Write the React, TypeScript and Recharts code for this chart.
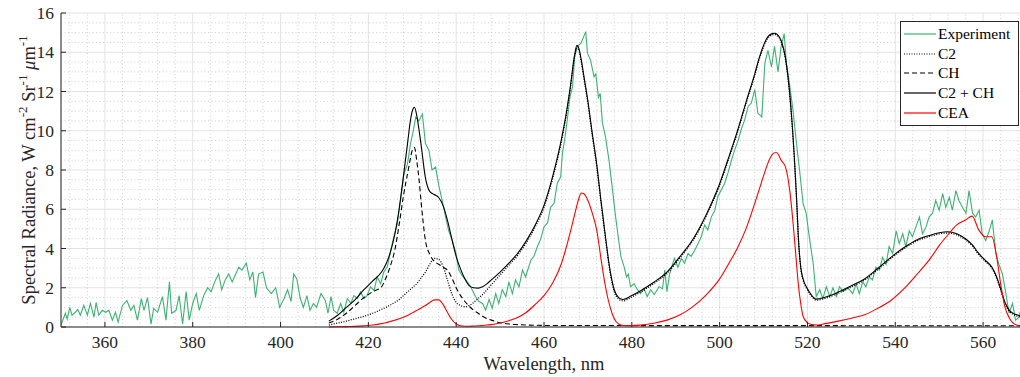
import React from 'react';
import { LineChart, Line, XAxis, YAxis, CartesianGrid, ReferenceLine, Legend } from 'recharts';

// experiment (noisy measured spectrum)
const expWavelength = [
  350, 351.0, 351.4, 352.0, 352.5, 353.3, 353.8, 354.4, 355.2, 356.0,
  356.7, 357.5, 358.0, 358.6, 359.4, 360.2, 360.9, 361.7, 362.4, 363.0,
  364.0, 365.0, 365.9, 366.6, 367.4, 368.3, 368.9, 369.7, 370.5, 371.1,
  372.0, 373.1, 373.9, 374.7, 375.2, 376.2, 376.9, 377.7, 378.5, 379.2,
  380.0, 380.8, 381.5, 382.5, 383.4, 384.2, 385.0, 385.9, 386.6, 387.4,
  388.2, 389.0, 389.7, 390.5, 391.2, 392.2, 393.0, 393.7, 394.3, 395.0,
  396.0, 396.8, 397.9, 398.9, 399.8, 400.8, 401.6, 402.4, 403.0, 403.7,
  404.5, 405.2, 406.0, 406.7, 407.5, 408.2, 409.2, 410.2, 410.8, 411.5,
  412.1, 412.9, 413.7, 414.4, 415.2, 416.0, 416.7, 417.5, 418.2, 419.0,
  419.7, 420.5, 421.3, 422.0, 422.8, 423.5, 424.3, 425.1, 425.8, 426.6,
  427.3, 428.1, 428.9, 429.6, 430.1, 430.8, 431.5, 432.3, 433.0, 433.8,
  434.5, 435.3, 436.1, 436.8, 437.6, 438.3, 439.1, 439.9, 440.6, 441.4,
  442.2, 443.3, 444.4, 445.2, 446.0, 446.7, 447.5, 448.2, 449.0, 449.7,
  450.5, 451.3, 452.0, 452.8, 453.5, 454.3, 455.1, 455.8, 457.0, 457.7,
  458.5, 459.2, 460.0, 460.8, 461.5, 462.3, 463.0, 463.8, 464.2, 464.8,
  465.3, 465.9, 466.5, 467.0, 467.6, 468.4, 469.5, 469.9, 470.6, 471.4,
  471.8, 472.4, 472.8, 473.3, 474.0, 474.8, 475.6, 476.2, 476.9, 477.5,
  478.2, 478.8, 479.2, 479.7, 480.5, 481.3, 482.0, 482.8, 483.5, 484.3,
  485.1, 486.2, 487.0, 487.5, 488.0, 488.6, 489.7, 490.5, 491.3, 492.0,
  492.8, 493.5, 494.3, 495.1, 495.8, 496.6, 497.3, 498.1, 498.9, 499.6,
  500.4, 501.1, 501.9, 502.7, 503.4, 504.2, 504.9, 505.7, 506.5, 507.2,
  508.0, 508.7, 509.6, 510.3, 511.0, 511.8, 512.5, 513.3, 514.0, 514.7,
  515.2, 515.9, 516.7, 517.5, 518.2, 519.0, 519.7, 520.5, 521.3, 522.0,
  522.8, 523.5, 524.3, 525.1, 525.8, 526.6, 527.3, 528.1, 529.2, 530.3,
  531.1, 531.8, 532.6, 533.3, 534.1, 534.8, 535.6, 536.4, 537.1, 537.9,
  538.6, 539.4, 540.2, 540.9, 541.7, 542.4, 543.2, 543.9, 544.7, 545.5,
  546.2, 547.0, 547.7, 548.5, 549.2, 550.0, 550.8, 551.5, 552.3, 553.0,
  553.8, 554.5, 555.3, 556.1, 556.8, 557.6, 558.3, 559.1, 559.8, 560.6,
  561.4, 562.1, 562.9, 563.6, 564.4, 565.2, 565.9, 566.7, 567.4, 568.2,
  569.0,
];
const expRadiance = [
  0.1, 0.7, 0.4, 1.0, 0.6, 0.75, 0.9, 0.6, 1.1, 0.6,
  1.2, 0.5, 1.25, 0.6, 0.85, 0.75, 0.85, 0.35, 0.75, 0.25,
  1.1, 1.35, 0.85, 1.1, 0.35, 1.45, 0.85, 1.5, 0.15, 0.95,
  0.75, 1.55, 0.35, 2.3, 0.7, 0.85, 1.6, 0.15, 1.8, 0.35,
  1.2, 1.7, 0.85, 1.6, 2.0, 1.8, 2.3, 2.7, 1.9, 2.4,
  2.7, 2.3, 2.65, 3.05, 2.9, 3.25, 2.4, 2.8, 1.5, 2.7,
  2.8, 2.0, 1.7, 2.0, 1.0, 1.45, 1.9, 1.3, 2.7, 2.45,
  1.45, 1.0, 1.6, 0.85, 1.2, 1.0, 1.7, 1.35, 0.7, 1.55,
  0.85, 0.7, 1.2, 0.75, 1.45, 1.2, 1.6, 1.45, 1.8, 1.45,
  1.6, 2.05, 1.85, 2.55, 2.2, 2.8, 3.05, 3.9, 4.6, 5.25,
  6.45, 7.8, 8.3, 9.35, 9.85, 10.7, 10.5, 10.85, 9.35, 9.0,
  8.0, 8.15, 7.15, 6.45, 5.6, 4.9, 4.4, 3.8, 2.9, 2.6,
  2.4, 2.05, 1.55, 1.3, 1.2, 0.87, 1.4, 0.95, 1.7, 1.2,
  1.9, 1.55, 2.3, 1.7, 2.4, 2.05, 2.9, 2.55, 3.4, 3.6,
  4.1, 4.45, 5.1, 5.3, 6.1, 6.3, 7.3, 7.65, 8.85, 9.7,
  10.55, 11.7, 12.25, 13.8, 14.3, 14.45, 15.05, 13.95, 13.6, 12.75,
  12.9, 11.7, 11.9, 10.4, 9.7, 8.5, 7.0, 5.8, 4.6, 3.6,
  3.1, 2.55, 2.7, 2.05, 2.2, 1.9, 1.7, 1.95, 1.55, 1.9,
  1.65, 2.05, 1.95, 2.9, 1.8, 2.7, 3.5, 3.05, 3.5, 3.25,
  3.75, 3.6, 3.9, 4.25, 4.6, 5.2, 4.95, 5.6, 5.95, 6.65,
  7.0, 7.3, 7.85, 8.5, 9.0, 9.5, 10.05, 10.55, 11.25, 11.4,
  12.1, 10.9, 10.7, 13.45, 14.1, 13.25, 14.3, 13.0, 14.3, 14.95,
  13.45, 12.4, 11.05, 9.35, 8.0, 6.3, 5.8, 4.45, 3.25, 1.55,
  1.9, 1.45, 2.05, 1.55, 2.0, 1.55, 2.05, 1.8, 2.0, 1.7,
  2.2, 1.7, 2.3, 2.05, 2.55, 2.4, 3.05, 2.9, 3.55, 3.2,
  4.1, 3.75, 4.9, 4.25, 4.75, 4.1, 4.9, 4.6, 5.1, 5.6,
  4.75, 5.1, 5.6, 5.8, 6.45, 5.95, 6.8, 6.1, 6.6, 5.95,
  6.95, 6.45, 6.1, 5.8, 6.95, 5.8, 5.6, 5.95, 4.75, 4.4,
  4.9, 5.45, 3.75, 3.2, 2.7, 1.7, 0.7, 1.2, 0.35, 0.5,
  1.3,
];

// model curves share one wavelength grid
const modelWavelength = [
  411, 413, 415, 417, 419, 421, 423, 424, 425, 426,
  427, 428, 429, 429.5, 430, 430.5, 431, 431.5, 432, 433,
  434, 435, 436, 437, 438, 439, 440, 441, 442, 443,
  444, 445, 446, 447, 448, 450, 452, 454, 456, 458,
  460, 462, 464, 465, 466, 467, 467.5, 468, 468.5, 469,
  470, 471, 472, 473, 474, 475, 476, 477, 478, 480,
  482, 485, 488, 491, 494, 497, 500, 502, 504, 506,
  508, 509, 510, 511, 512, 512.5, 513, 514, 515, 516,
  517, 517.5, 518, 518.5, 519, 520, 521, 522, 524, 527,
  530, 533, 536, 539, 542, 545, 548, 550, 552, 554,
  556, 557.5, 559, 560.5, 562, 563, 564, 565, 566, 567,
  568, 569.5,
];
const c2Values = [
  0.1, 0.2, 0.3, 0.42, 0.55, 0.7, 0.9, 1.0, 1.12, 1.25,
  1.4, 1.6, 1.8, 1.9, 2.0, 2.1, 2.2, 2.35, 2.5, 2.8,
  3.2, 3.5, 3.45, 3.1, 2.4, 1.7, 1.25, 1.1, 1.03, 1.1,
  1.25, 1.45, 1.65, 1.9, 2.15, 2.65, 3.15, 3.65, 4.3, 5.1,
  6.1, 7.6, 9.5, 10.7, 12.15, 13.8, 14.2, 14.05, 13.5, 12.8,
  11.4, 9.75, 8.2, 6.3, 4.5, 2.85, 1.8, 1.42, 1.33, 1.53,
  1.78, 2.21, 2.73, 3.53, 4.43, 5.68, 7.23, 8.53, 9.88, 11.38,
  12.83, 13.63, 14.28, 14.73, 14.88, 14.9, 14.86, 14.53, 13.63, 11.73,
  8.63, 6.6, 4.25, 2.95, 2.4, 1.9, 1.55, 1.37, 1.46, 1.72,
  2.04, 2.39, 2.92, 3.49, 3.99, 4.39, 4.62, 4.74, 4.79, 4.69,
  4.44, 4.14, 3.69, 3.34, 2.99, 2.54, 1.89, 1.19, 0.79, 0.62,
  0.54, 0.44,
];
const chValues = [
  0.2, 0.4, 0.7, 1.1, 1.5, 1.8, 2.05, 2.5, 3.1, 3.9,
  5.2, 6.7, 7.9, 8.5, 9.0, 9.15, 8.5, 7.6, 6.4, 4.4,
  3.7, 3.35, 3.2, 3.05, 2.9, 2.5, 2.0, 1.6, 1.3, 1.05,
  0.85, 0.7, 0.55, 0.43, 0.35, 0.22, 0.15, 0.12, 0.1, 0.09,
  0.08, 0.08, 0.08, 0.08, 0.08, 0.08, 0.08, 0.08, 0.08, 0.08,
  0.08, 0.08, 0.08, 0.08, 0.08, 0.08, 0.08, 0.08, 0.08, 0.08,
  0.07, 0.07, 0.07, 0.07, 0.07, 0.07, 0.07, 0.07, 0.07, 0.07,
  0.07, 0.07, 0.07, 0.07, 0.07, 0.07, 0.07, 0.07, 0.07, 0.07,
  0.07, 0.07, 0.07, 0.07, 0.07, 0.07, 0.07, 0.07, 0.07, 0.07,
  0.06, 0.06, 0.06, 0.06, 0.06, 0.06, 0.06, 0.06, 0.06, 0.06,
  0.06, 0.06, 0.06, 0.06, 0.06, 0.06, 0.06, 0.06, 0.06, 0.06,
  0.06, 0.06,
];
const c2chValues = [
  0.3, 0.6, 1.0, 1.4, 1.9, 2.35, 2.8, 3.2, 3.8, 4.7,
  6.0, 7.7, 9.5, 10.4, 11.0, 11.2, 10.8, 10.1, 9.3, 7.6,
  6.9, 6.75, 6.6, 6.2, 5.45, 4.5, 3.6, 2.95, 2.45, 2.1,
  2.0, 1.98, 2.05, 2.2, 2.4, 2.8, 3.25, 3.75, 4.4, 5.2,
  6.2, 7.7, 9.6, 10.8, 12.25, 13.9, 14.35, 14.15, 13.6, 12.9,
  11.5, 9.85, 8.3, 6.4, 4.6, 2.95, 1.9, 1.5, 1.4, 1.6,
  1.85, 2.28, 2.8, 3.6, 4.5, 5.75, 7.3, 8.6, 9.95, 11.45,
  12.9, 13.7, 14.35, 14.8, 14.95, 14.97, 14.93, 14.6, 13.7, 11.8,
  8.7, 6.65, 4.3, 3.0, 2.45, 1.95, 1.6, 1.42, 1.52, 1.78,
  2.1, 2.45, 2.98, 3.55, 4.05, 4.45, 4.68, 4.8, 4.85, 4.75,
  4.5, 4.2, 3.75, 3.4, 3.05, 2.6, 1.95, 1.25, 0.85, 0.68,
  0.6, 0.5,
];
const ceaValues = [
  0, 0.01, 0.02, 0.03, 0.06, 0.1, 0.17, 0.22, 0.28, 0.34,
  0.42, 0.5, 0.6, 0.66, 0.72, 0.78, 0.84, 0.9, 0.97, 1.1,
  1.25, 1.38, 1.38, 1.15, 0.75, 0.38, 0.15, 0.06, 0.04, 0.04,
  0.05, 0.06, 0.08, 0.1, 0.12, 0.2, 0.32, 0.48, 0.75, 1.15,
  1.6, 2.25, 3.25, 4.0, 4.85, 5.75, 6.2, 6.6, 6.83, 6.8,
  6.45, 5.8, 4.95, 3.45, 2.05, 1.05, 0.42, 0.15, 0.08, 0.07,
  0.1, 0.19, 0.35, 0.62, 1.05, 1.65, 2.45, 3.2, 4.0, 5.0,
  6.3, 7.0, 7.7, 8.35, 8.8, 8.88, 8.88, 8.5, 8.15, 6.9,
  4.6, 3.25, 2.0, 1.15, 0.55, 0.22, 0.12, 0.1, 0.17, 0.3,
  0.45, 0.62, 0.95, 1.35, 1.95, 2.7, 3.5, 4.15, 4.7, 5.2,
  5.45, 5.65, 4.95, 4.6, 4.6, 3.7, 2.2, 1.0, 0.45, 0.17,
  0.08, 0.03,
];

const xTicks = [360, 380, 400, 420, 440, 460, 480, 500, 520, 540, 560];
const yTicks = [0, 2, 4, 6, 8, 10, 12, 14, 16];

const FONT = '"Liberation Serif", "Times New Roman", serif';
const AXIS = '#262626';
const GREEN = '#3cb371';
const RED = '#ff0000';

const rows: any[] = [
  ...expWavelength.map((wl, i) => ({ wl, exp: expRadiance[i] })),
  ...modelWavelength.map((wl, i) => ({
    wl,
    c2: c2Values[i],
    ch: chValues[i],
    sum: c2chValues[i],
    cea: ceaValues[i],
  })),
].sort((a, b) => a.wl - b.wl);

// minor grid positions (MATLAB style dotted grid)
const xMinor: number[] = [];
for (let v = 352; v < 570; v += 4) if (v % 20 !== 0) xMinor.push(v);
const yMinor: number[] = [];
for (let v = 0.5; v < 16; v += 0.5) if (v % 2 !== 0) yMinor.push(v);

const legendItems = [
  { name: 'Experiment', color: GREEN, dash: undefined },
  { name: 'C2', color: '#000', dash: '1 1.5' },
  { name: 'CH', color: '#000', dash: '5 3' },
  { name: 'C2 + CH', color: '#000', dash: undefined },
  { name: 'CEA', color: RED, dash: undefined },
];

const renderLegend = () => (
  <div
    style={{
      width: 119,
      boxSizing: 'border-box',
      border: `1px solid ${AXIS}`,
      background: '#fff',
      padding: '2px 3px',
      fontFamily: FONT,
      fontSize: 15.5,
      lineHeight: '19.7px',
      color: '#000',
    }}
  >
    {legendItems.map((item) => (
      <div key={item.name} style={{ display: 'flex', alignItems: 'center', whiteSpace: 'nowrap', fontFamily: FONT }}>
        <svg width={32} height={10} style={{ marginRight: 2, flex: 'none' }}>
          <line x1={0} x2={32} y1={5} y2={5} stroke={item.color} strokeWidth={1.2} strokeDasharray={item.dash} />
        </svg>
        <span style={{ fontFamily: FONT }}>{item.name}</span>
      </div>
    ))}
  </div>
);

const YLabel = (props: any) => {
  const vb = props.viewBox || { y: 13, height: 314 };
  const cx = 35;
  const cy = vb.y + vb.height / 2;
  return (
    <text
      x={cx}
      y={cy}
      transform={`rotate(-90 ${cx} ${cy})`}
      textAnchor="middle"
      fontFamily={FONT}
      fontSize={18.5}
      fill={AXIS}
    >
      Spectral Radiance, W cm
      <tspan dy={-8} fontSize={13}>-2</tspan>
      <tspan dy={8}> Sr</tspan>
      <tspan dy={-8} fontSize={13}>-1</tspan>
      <tspan dy={8}> </tspan>
      <tspan fontStyle="italic">μ</tspan>
      <tspan>m</tspan>
      <tspan dy={-8} fontSize={13}>-1</tspan>
    </text>
  );
};

const XTick = ({ x, y, payload }: any) => (
  <text x={x} y={y} dy={12} textAnchor="middle" fontFamily={FONT} fontSize={17.5} fill={AXIS}>
    {payload.value}
  </text>
);

const YTick = ({ x, y, payload }: any) => (
  <text x={x} y={y} dy={6} textAnchor="end" fontFamily={FONT} fontSize={17.5} fill={AXIS}>
    {payload.value}
  </text>
);

export default function App() {
  return (
    <div
      style={{
        position: 'fixed',
        left: 0,
        top: 0,
        width: 1020,
        height: 377,
        overflow: 'hidden',
        background: '#fff',
        fontFamily: FONT,
      }}
    >
      <LineChart
        width={1040}
        height={377}
        data={rows}
        margin={{ top: 13, right: 13, bottom: 0, left: 0 }}
        style={{ fontFamily: FONT }}
      >
        <CartesianGrid stroke="#e3e3e3" strokeWidth={1} />
        {xMinor.map((v) => (
          <ReferenceLine key={`vx${v}`} x={v} stroke="#c4c4c4" strokeWidth={0.8} strokeDasharray="1 2.5" />
        ))}
        {yMinor.map((v) => (
          <ReferenceLine key={`hy${v}`} y={v} stroke="#c4c4c4" strokeWidth={0.8} strokeDasharray="1 2.5" />
        ))}
        <XAxis
          dataKey="wl"
          type="number"
          domain={[350, 570]}
          allowDataOverflow
          ticks={xTicks}
          height={50}
          stroke={AXIS}
          tickSize={-5}
          tickMargin={14}
          tick={<XTick />}
          tickLine={{ stroke: AXIS }}
          label={{
            value: 'Wavelength, nm',
            position: 'insideBottom',
            offset: 7,
            fontFamily: FONT,
            fontSize: 18.5,
            fill: AXIS,
          }}
        />
        <XAxis
          xAxisId="top"
          orientation="top"
          dataKey="wl"
          type="number"
          domain={[350, 570]}
          allowDataOverflow
          ticks={xTicks}
          height={0}
          stroke={AXIS}
          tickSize={-5}
          tick={false}
          tickLine={{ stroke: AXIS }}
        />
        <YAxis
          type="number"
          domain={[0, 16]}
          ticks={yTicks}
          width={61}
          stroke={AXIS}
          tickSize={-5}
          tickMargin={12}
          tick={<YTick />}
          tickLine={{ stroke: AXIS }}
          label={YLabel}
        />
        <Legend
          layout="vertical"
          align="center"
          verticalAlign="middle"
          content={renderLegend}
          wrapperStyle={{ left: 900, top: 21, width: 'auto', height: 'auto' }}
        />
        <Line dataKey="exp" name="Experiment" type="linear" stroke={GREEN} strokeWidth={1.1} dot={false} activeDot={false} connectNulls isAnimationActive={false} />
        <Line dataKey="c2" name="C2" type="monotone" stroke="#000" strokeWidth={1.3} strokeDasharray="1 1.5" dot={false} activeDot={false} connectNulls isAnimationActive={false} />
        <Line dataKey="ch" name="CH" type="monotone" stroke="#000" strokeWidth={1.1} strokeDasharray="5 3" dot={false} activeDot={false} connectNulls isAnimationActive={false} />
        <Line dataKey="sum" name="C2 + CH" type="monotone" stroke="#000" strokeWidth={1.1} dot={false} activeDot={false} connectNulls isAnimationActive={false} />
        <Line dataKey="cea" name="CEA" type="monotone" stroke={RED} strokeWidth={1.1} dot={false} activeDot={false} connectNulls isAnimationActive={false} />
      </LineChart>
    </div>
  );
}
